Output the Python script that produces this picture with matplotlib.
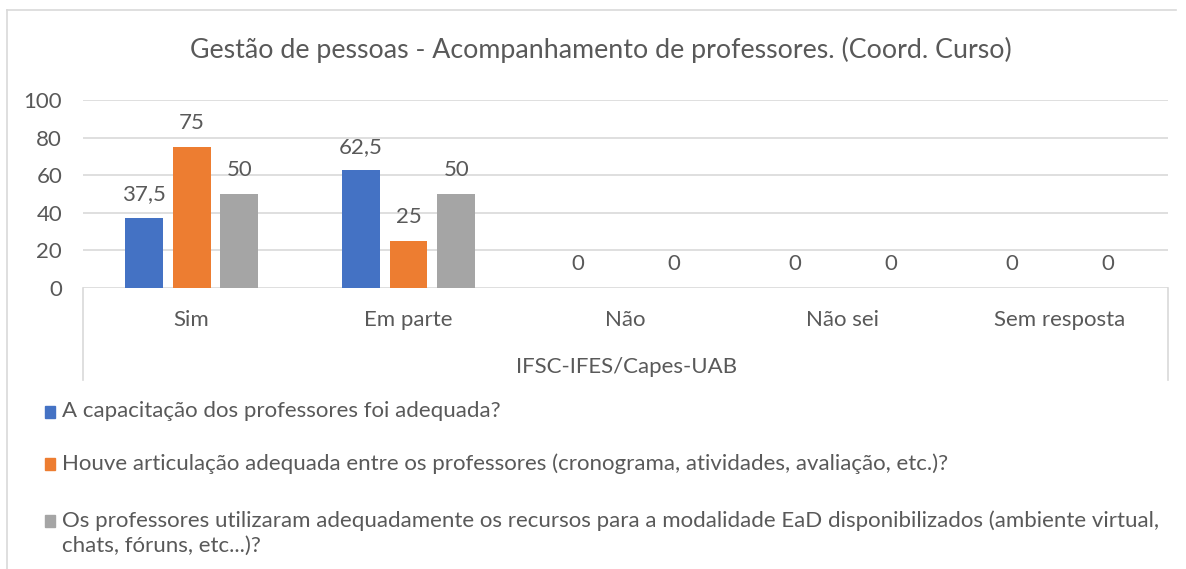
import numpy as np
import matplotlib.pyplot as plt
from matplotlib.patches import Rectangle
from matplotlib.lines import Line2D

plt.rcParams['font.family'] = ['Lato', 'DejaVu Sans']

# Dados da pesquisa (percentuais)
categorias = ['Sim', 'Em parte', 'Não', 'Não sei', 'Sem resposta']
capacitacao = [37.5, 62.5, 0, 0, 0]
articulacao = [75, 25, np.nan, np.nan, np.nan]
recursos = [50, 50, 0, 0, 0]

series = [
    ('A capacitação dos professores foi adequada?', capacitacao),
    ('Houve articulação adequada entre os professores (cronograma, atividades, avaliação, etc.)?', articulacao),
    ('Os professores utilizaram adequadamente os recursos para a modalidade EaD disponibilizados (ambiente virtual,\nchats, fóruns, etc...)?', recursos),
]
cores = ['#4472C4', '#ED7D31', '#A5A5A5']
grupo = 'IFSC-IFES/Capes-UAB'
titulo = 'Gestão de pessoas - Acompanhamento de professores. (Coord. Curso)'

cor_texto = '#595959'
cor_grade = '#D9D9D9'
fs = 16

fig = plt.figure(figsize=(11.86, 5.69), dpi=100)
ax = fig.add_axes([0.070, 0.4938, 0.9148, 0.3305])

x = np.arange(len(categorias))
largura = 0.175
passo = 0.221

for i, (nome, valores) in enumerate(series):
    pos = x + (i - 1) * passo
    vals = np.array(valores, dtype=float)
    ax.bar(pos, np.nan_to_num(vals), width=largura, color=cores[i], zorder=3)
    for xp, v in zip(pos, vals):
        if np.isnan(v):
            continue
        txt = f'{v:g}'.replace('.', ',')
        ax.annotate(txt, (xp, v), xytext=(0, 10), textcoords='offset points',
                    ha='center', va='bottom', fontsize=fs, color=cor_texto)

ax.set_xlim(-0.5, len(categorias) - 0.5)
ax.set_ylim(0, 100)
ax.set_yticks(range(0, 101, 20))
ax.grid(axis='y', color=cor_grade, linewidth=1.2, zorder=0)
for s in ax.spines.values():
    s.set_visible(False)
ax.tick_params(axis='y', length=0, pad=15, labelsize=fs, labelcolor=cor_texto)
ax.tick_params(axis='x', length=0, pad=16, labelsize=fs, labelcolor=cor_texto)
ax.set_xticks(x)
ax.set_xticklabels(categorias)

# Caixa do eixo de categorias em dois níveis
for xa in (0, 1):
    ax.add_line(Line2D([xa, xa], [0, -0.49], transform=ax.transAxes,
                       color=cor_grade, linewidth=1.2, clip_on=False))
fig.text(0.528, 1 - 367 / 569, grupo, ha='center', va='center',
         fontsize=fs, color=cor_texto)

fig.text(0.507, 1 - 50 / 569, titulo, ha='center', va='center',
         fontsize=19.3, color=cor_texto)

# Legenda
y_leg = [412, 464, 521]
for (nome, _), cor, yl in zip(series, cores, y_leg):
    yf = 1 - yl / 569
    fig.patches.append(Rectangle((45 / 1186, yf - 6 / 569), 10 / 1186, 12 / 569,
                                 transform=fig.transFigure, color=cor, figure=fig))
    fig.text(62 / 1186, yf + 11 / 569, nome, ha='left', va='top', fontsize=fs,
             color=cor_texto, linespacing=1.3)

# Moldura do gráfico
fig.add_artist(Line2D([7 / 1186, 7 / 1186], [0, 1 - 10 / 569], color=cor_grade, linewidth=1.2))
fig.add_artist(Line2D([7 / 1186, 1176 / 1186], [1 - 10 / 569, 1 - 10 / 569], color=cor_grade, linewidth=1.2))

fig.savefig('out.png', dpi=100)
